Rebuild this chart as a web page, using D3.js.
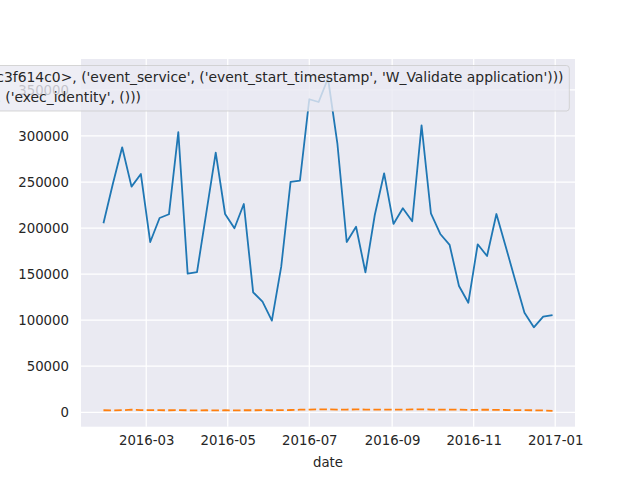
<!DOCTYPE html>
<html>
<head>
<meta charset="utf-8">
<script src="https://cdn.jsdelivr.net/npm/d3@7"></script>
<style>
html, body { margin: 0; padding: 0; background: #ffffff; }
svg { display: block; font-family: "DejaVu Sans", sans-serif; }
</style>
</head>
<body>
<svg id="chart" width="640" height="480"></svg>
<script>
// ---- data ----
const startDate = "2016-01-29";   // weekly observations (Fridays)
const seriesNames = [
  "(<__main__.FeatureExtractor object at 0x7f2a5c3f614c0>, ('event_service', ('event_start_timestamp', 'W_Validate application')))",
  "(<__main__.Feature at 0x7f2ac3f614c0>, ('exec_identity', ()))"
];
const serviceValues = [
  205200, 247900, 287700, 245000, 258700, 184900, 211000, 215000, 304300, 150500,
  152300, 217000, 281900, 215300, 199800, 226200, 130300, 120100, 99500, 158100,
  250100, 251500, 339900, 336900, 362700, 292100, 184900, 201500, 152000, 214200,
  259500, 204500, 221500, 207400, 311600, 216100, 193600, 181700, 137100, 119000,
  182400, 169700, 215300, 179800, 143600, 108100, 92300, 103800, 105600
];
const identityValues = [
  2200, 2100, 2300, 2800, 2400, 2300, 2300, 2200, 2300, 2200,
  2100, 2200, 2100, 2200, 2100, 2200, 2200, 2300, 2200, 2400,
  2500, 2800, 3000, 3100, 3200, 3000, 3000, 3100, 3000, 2900,
  3000, 3000, 2900, 3100, 3200, 3000, 2900, 2800, 3000, 2700,
  2700, 2800, 2600, 2500, 2400, 2300, 2200, 2000, 1600
];
const yTicks = [0, 50000, 100000, 150000, 200000, 250000, 300000, 350000];
const xTickLabels = ["2016-03", "2016-05", "2016-07", "2016-09", "2016-11", "2017-01"];
const yDomain = [-15640, 383600];
const xLabel = "date";

// ---- build ----
const parse = d3.timeParse("%Y-%m-%d");
const t0 = parse(startDate);
const dates = serviceValues.map((_, i) => d3.timeDay.offset(t0, 7 * i));
const seriesList = [
  { name: seriesNames[0], values: serviceValues, color: "#1f77b4", dash: null },
  { name: seriesNames[1], values: identityValues, color: "#ff7f0e", dash: "7.5,3.3" }
];

const svg = d3.select("#chart");
const L = 81, R = 575, T = 59, B = 426.7;

const dMin = dates[0], dMax = dates[dates.length - 1];
const pad = (dMax - dMin) * 0.05;
const x = d3.scaleTime()
  .domain([new Date(+dMin - pad), new Date(+dMax + pad)])
  .range([L, R]);
const y = d3.scaleLinear().domain(yDomain).range([B, T]);

// background
svg.append("rect").attr("x", L).attr("y", T).attr("width", R - L).attr("height", B - T)
  .attr("fill", "#eaeaf2");

const fmt = d3.timeFormat("%Y-%m");
const xTickDates = xTickLabels.map(s => d3.timeParse("%Y-%m")(s));

// grid
const grid = svg.append("g");
grid.selectAll("line.gx").data(xTickDates).join("line")
  .attr("x1", d => x(d)).attr("x2", d => x(d)).attr("y1", T).attr("y2", B)
  .attr("stroke", "#ffffff").attr("stroke-width", 1.25);
grid.selectAll("line.gy").data(yTicks).join("line")
  .attr("x1", L).attr("x2", R).attr("y1", d => y(d)).attr("y2", d => y(d))
  .attr("stroke", "#ffffff").attr("stroke-width", 1.25);

// axes
const xAxis = d3.axisBottom(x).tickValues(xTickDates).tickFormat(fmt).tickSize(0).tickPadding(9);
const gx = svg.append("g").attr("transform", `translate(0,${B})`).call(xAxis);
gx.select(".domain").remove();
gx.selectAll("text").attr("font-size", "13.3px").attr("fill", "#262626")
  .attr("font-family", "DejaVu Sans");

const yAxis = d3.axisLeft(y).tickValues(yTicks).tickFormat(d3.format("d")).tickSize(0).tickPadding(12);
const gy = svg.append("g").attr("transform", `translate(${L},0)`).call(yAxis);
gy.select(".domain").remove();
gy.selectAll("text").attr("font-size", "13.3px").attr("fill", "#262626")
  .attr("font-family", "DejaVu Sans");

svg.append("text").attr("x", (L + R) / 2).attr("y", 467)
  .attr("text-anchor", "middle").attr("font-size", "13.3px").attr("fill", "#262626")
  .text(xLabel);

// lines
const line = d3.line().x((d, i) => x(dates[i])).y(d => y(d));
const clip = svg.append("clipPath").attr("id", "clip").append("rect")
  .attr("x", L).attr("y", T).attr("width", R - L).attr("height", B - T);
seriesList.forEach(s => {
  svg.append("path").datum(s.values)
    .attr("clip-path", "url(#clip)")
    .attr("d", line)
    .attr("fill", "none")
    .attr("stroke", s.color)
    .attr("stroke-width", 1.8)
    .attr("stroke-linejoin", "round")
    .attr("stroke-dasharray", s.dash);
});

// legend (cut off on the left, as in the reference)
const lg = svg.append("g");
const box = lg.append("rect");
const lineEnds = [563.5, 141];
const baselines = [82, 102];
const texts = seriesList.map((s, i) => lg.append("text")
  .attr("x", lineEnds[i]).attr("y", baselines[i])
  .attr("text-anchor", "end")
  .attr("font-size", "13.9px").attr("fill", "#262626")
  .text(s.name));
const starts = texts.map(t => +t.attr("x") - t.node().getComputedTextLength());
const textStart = Math.min(...starts);
seriesList.forEach((s, i) => {
  lg.append("line")
    .attr("x1", textStart - 36).attr("x2", textStart - 8)
    .attr("y1", baselines[i] - 5).attr("y2", baselines[i] - 5)
    .attr("stroke", s.color).attr("stroke-width", 1.8)
    .attr("stroke-dasharray", s.dash);
});
box.attr("x", textStart - 46).attr("y", 65.5)
  .attr("width", 569.3 - (textStart - 46)).attr("height", 45.5)
  .attr("rx", 3)
  .attr("fill", "#eaeaf2").attr("fill-opacity", 0.8)
  .attr("stroke", "#cccccc").attr("stroke-opacity", 0.8).attr("stroke-width", 1);
</script>
</body>
</html>
